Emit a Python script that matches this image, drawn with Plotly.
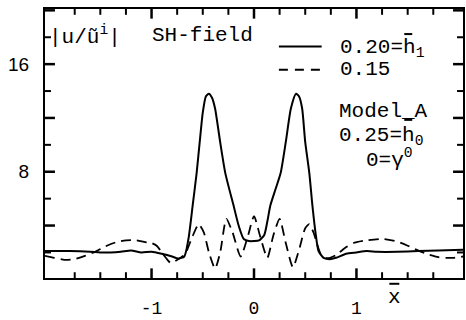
import plotly.graph_objects as go

# ---- data ----
x_solid = [-2.04, -1.8, -1.6, -1.5, -1.4, -1.3, -1.2, -1.1, -1.0, -0.9, -0.8, -0.74, -0.68,
           -0.64, -0.60, -0.56, -0.53, -0.50, -0.47, -0.44, -0.41, -0.38, -0.33, -0.28,
           -0.20, -0.15, -0.10, -0.05, 0.00, 0.05, 0.10, 0.13, 0.16, 0.21, 0.26, 0.31,
           0.36, 0.41, 0.44, 0.47, 0.50, 0.54, 0.57, 0.60, 0.63, 0.68, 0.74, 0.8, 0.9,
           1.0, 1.1, 1.2, 1.4, 1.6, 1.8, 2.04]
y_solid = [2.1, 2.1, 2.05, 2.0, 2.0, 2.05, 2.15, 2.0, 2.05, 1.9, 1.7, 1.55, 1.7,
           3.0, 5.4, 7.9, 10.2, 12.4, 13.6, 13.8, 13.5, 12.7, 10.2, 7.9,
           5.5, 4.0, 3.0, 2.85, 2.85, 2.9, 3.3, 4.3, 5.5, 6.7, 7.9, 10.2,
           12.7, 13.8, 13.6, 12.7, 10.2, 7.9, 5.5, 3.5, 2.1, 1.6, 1.5, 1.6, 1.9,
           2.0, 2.1, 2.05, 2.05, 2.1, 2.15, 2.2]

x_dash = [-2.04, -1.95, -1.85, -1.75, -1.65, -1.55, -1.45, -1.35, -1.25, -1.15, -1.05,
          -1.0, -0.95, -0.9, -0.85, -0.81, -0.76, -0.70, -0.67, -0.60, -0.54, -0.49,
          -0.44, -0.38, -0.33, -0.27, -0.21, -0.13, -0.06, 0.0, 0.06, 0.13, 0.19, 0.25,
          0.31, 0.38, 0.44, 0.50, 0.54, 0.58, 0.65, 0.70, 0.74, 0.8, 0.9, 0.97, 1.1,
          1.26, 1.4, 1.5, 1.6, 1.7, 1.8, 1.87, 1.95, 2.04]
y_dash = [1.75, 1.6, 1.45, 1.5, 1.75, 2.05, 2.45, 2.75, 2.9, 2.9, 2.75,
          2.7, 2.5, 2.0, 1.5, 1.2, 1.4, 1.7, 1.9, 3.2, 4.1, 3.5,
          2.0, 0.8, 2.0, 4.5, 3.5, 1.7, 3.2, 4.7, 3.2, 1.6, 3.3, 4.5,
          2.7, 0.9, 2.2, 3.8, 4.1, 3.5, 1.9, 1.6, 1.6, 1.8, 2.4, 2.7, 2.9,
          3.0, 2.8, 2.5, 2.15, 1.85, 1.65, 1.6, 1.6, 1.7]

series_names = ["0.20=h<sub>1</sub>", "0.15"]

x_range = [-2.04, 2.04]
y_range = [0.1, 20.1]
x_tickvals = [-1, 0, 1]
x_ticktext = ["-1", "0", "1"]
x_minor = [-1.75, -1.5, -1.25, -0.75, -0.5, -0.25, 0.25, 0.5, 0.75, 1.25, 1.5, 1.75]
y_tickvals = [4, 8, 12, 16, 20]
y_ticktext = ["", "8", "", "16", ""]
y_minor = [2, 6, 10, 14, 18]

MONO = "Liberation Mono"
SANS = "Liberation Sans"
FS = 21

L, R, T, B = 45, 465, 9, 288
W, H = R - L, B - T

def px(xp):
    return (xp - L) / W

def py(yp):
    return (B - yp) / H

def xfrac(v):
    return (v - x_range[0]) / (x_range[1] - x_range[0])

def yfrac(v):
    return (v - y_range[0]) / (y_range[1] - y_range[0])

fig = go.Figure()
fig.add_trace(go.Scatter(x=x_solid, y=y_solid, mode="lines", name=series_names[0],
                         showlegend=False,
                         line=dict(color="black", width=2, shape="spline", smoothing=0.6)))
fig.add_trace(go.Scatter(x=x_dash, y=y_dash, mode="lines", name=series_names[1],
                         showlegend=False,
                         line=dict(color="black", width=1.8, dash="10px,6px",
                                   shape="spline", smoothing=0.6)))

annots = [
    dict(text="|u/ũ<sup>i</sup>|", x=px(47), y=py(36), xanchor="left", yanchor="middle"),
    dict(text="SH-field", x=px(150), y=py(37), xanchor="left", yanchor="middle"),
    dict(text=series_names[0], x=px(339), y=py(50), xanchor="left", yanchor="middle"),
    dict(text=series_names[1], x=px(339), y=py(72), xanchor="left", yanchor="middle"),
    dict(text="Model_A", x=px(338), y=py(115), xanchor="left", yanchor="middle"),
    dict(text="0.25=h<sub>0</sub>", x=px(338), y=py(141), xanchor="left", yanchor="middle"),
    dict(text="0=γ<sup>0</sup>", x=px(366), y=py(164), xanchor="left", yanchor="middle"),
    dict(text="x", x=px(396), y=py(308), xanchor="center", yanchor="middle"),
]
for a in annots:
    fig.add_annotation(xref="paper", yref="paper", showarrow=False,
                       font=dict(family=MONO, size=FS, color="black"), **a)

# legend line samples
fig.add_shape(type="line", xref="paper", yref="paper", x0=px(280), x1=px(323),
              y0=py(48), y1=py(48), line=dict(color="black", width=2))
fig.add_shape(type="line", xref="paper", yref="paper", x0=px(280), x1=px(324),
              y0=py(72), y1=py(72), line=dict(color="black", width=2, dash="9px,7px"))

# overbars
for (x0, x1, yb) in [(406, 414, 35), (406, 414, 124), (391, 401, 294)]:
    fig.add_shape(type="line", xref="paper", yref="paper", x0=px(x0), x1=px(x1),
                  y0=py(yb), y1=py(yb), line=dict(color="black", width=2))

# inward tick marks on all four sides (paper coordinates from the axis ranges)
def xtick(v, length, width):
    f = xfrac(v)
    d = length / H
    for (a, b) in ((0, d), (1, 1 - d)):
        fig.add_shape(type="line", xref="paper", yref="paper", x0=f, x1=f, y0=a, y1=b,
                      layer="above", line=dict(color="black", width=width))

def ytick(v, length, width):
    f = yfrac(v)
    d = length / W
    for (a, b) in ((0, d), (1, 1 - d)):
        fig.add_shape(type="line", xref="paper", yref="paper", y0=f, y1=f, x0=a, x1=b,
                      layer="above", line=dict(color="black", width=width))

for v in x_tickvals:
    xtick(v, 10, 2.5)
for v in x_minor:
    xtick(v, 6, 2)
for v in y_tickvals:
    ytick(v, 10, 2.5)
for v in y_minor:
    ytick(v, 6, 2)

fig.update_xaxes(range=x_range, tickmode="array", tickvals=x_tickvals,
                 ticktext=x_ticktext, tickfont=dict(family=MONO, size=18, color="black"),
                 showline=True, linecolor="black", linewidth=2, mirror=True,
                 ticks="", ticklabelstandoff=12,
                 showgrid=False, zeroline=False)
fig.update_yaxes(range=y_range, tickmode="array", tickvals=y_tickvals,
                 ticktext=y_ticktext, tickfont=dict(family=SANS, size=19, color="black"),
                 showline=True, linecolor="black", linewidth=2, mirror=True,
                 ticks="", ticklabelstandoff=10,
                 showgrid=False, zeroline=False)

fig.update_layout(
    width=466, height=320,
    margin=dict(l=L, r=466 - R, t=T, b=320 - B),
    paper_bgcolor="white", plot_bgcolor="white",
    showlegend=False,
)

fig.write_html("out.html")
